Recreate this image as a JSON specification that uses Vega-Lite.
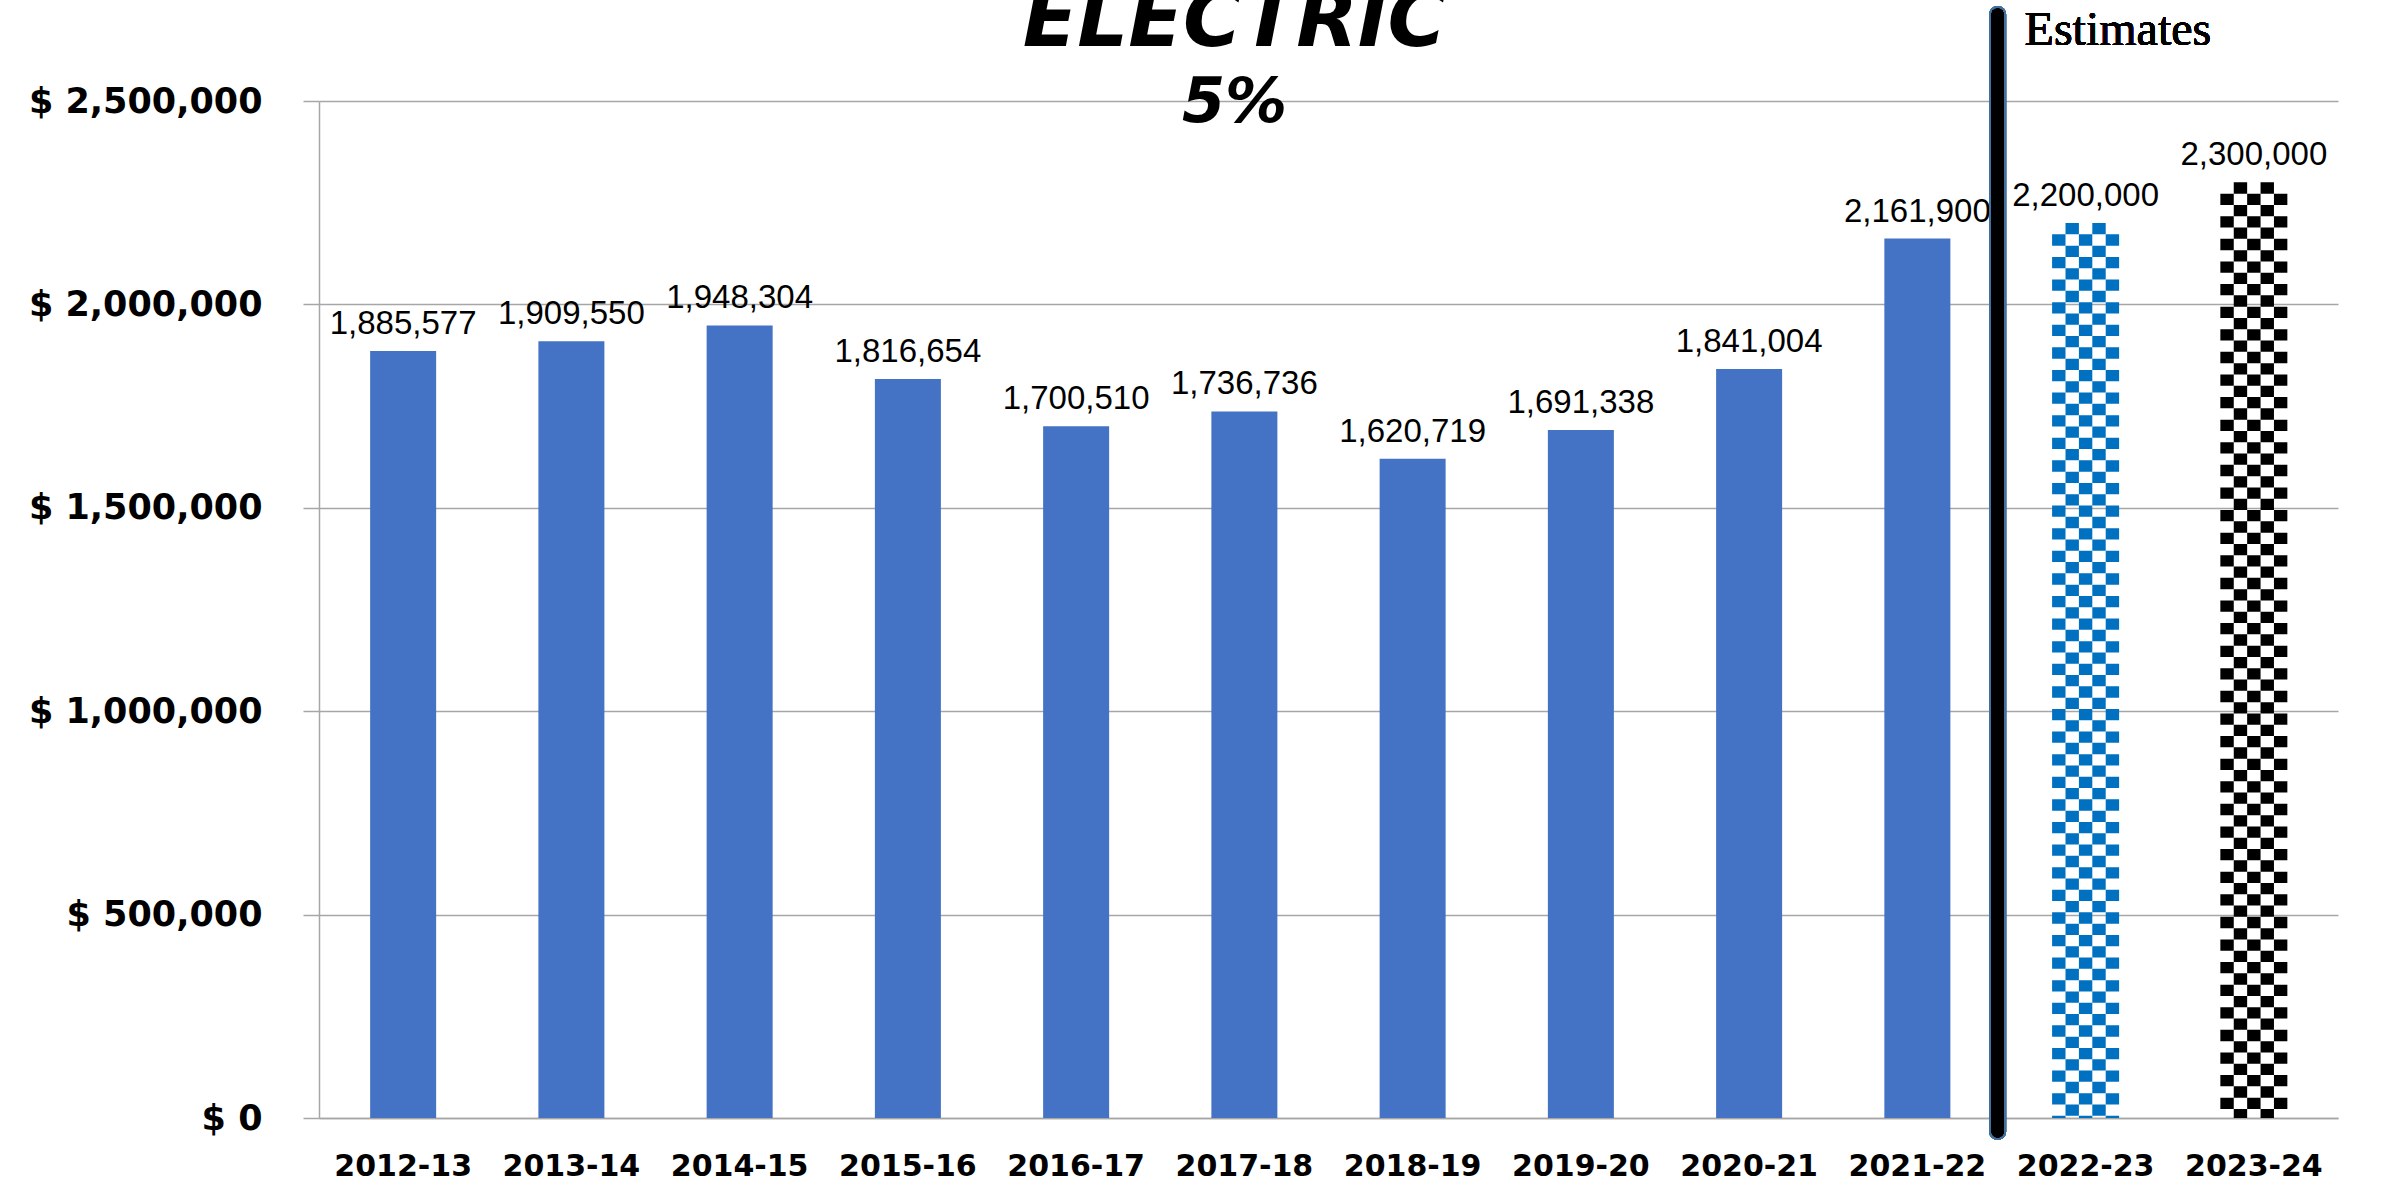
{
  "$schema": "https://vega.github.io/schema/vega-lite/v6.json",
  "width": 2019,
  "height": 1017,
  "autosize": {"type": "none"},
  "padding": {"left": 319, "top": 101, "right": 44, "bottom": 78},
  "background": "white",
  "title": {
    "text": "ELECTRIC",
    "subtitle": "5%",
    "anchor": "middle",
    "frame": "group",
    "dx": -94,
    "dy": 129,
    "offset": 0,
    "font": "DejaVu Sans",
    "fontSize": 80,
    "fontStyle": "italic",
    "fontWeight": "bold",
    "color": "black",
    "subtitleFont": "DejaVu Sans",
    "subtitleFontSize": 62,
    "subtitleFontStyle": "italic",
    "subtitleFontWeight": "bold",
    "subtitleColor": "black",
    "subtitlePadding": 10
  },
  "config": {
    "view": {"stroke": null},
    "axis": {"gridColor": "#a6a6a6", "gridWidth": 1.5, "domainColor": "#a6a6a6", "domainWidth": 1.5, "tickColor": "#a6a6a6", "tickWidth": 1.5}
  },
  "data": {
    "values": [
      {"year": "2012-13", "value": 1885577, "kind": "actual"},
      {"year": "2013-14", "value": 1909550, "kind": "actual"},
      {"year": "2014-15", "value": 1948304, "kind": "actual"},
      {"year": "2015-16", "value": 1816654, "kind": "actual"},
      {"year": "2016-17", "value": 1700510, "kind": "actual"},
      {"year": "2017-18", "value": 1736736, "kind": "actual"},
      {"year": "2018-19", "value": 1620719, "kind": "actual"},
      {"year": "2019-20", "value": 1691338, "kind": "actual"},
      {"year": "2020-21", "value": 1841004, "kind": "actual"},
      {"year": "2021-22", "value": 2161900, "kind": "actual"},
      {"year": "2022-23", "value": 2200000, "kind": "estimate"},
      {"year": "2023-24", "value": 2300000, "kind": "estimate"}
    ]
  },
  "encoding": {
    "x": {
      "field": "year",
      "type": "nominal",
      "sort": null,
      "scale": {"paddingInner": 0.6077, "paddingOuter": 0.304},
      "axis": {"title": null, "labelAngle": 0, "labelFont": "DejaVu Sans", "labelFontWeight": "bold", "labelFontSize": 30, "labelColor": "black", "ticks": false, "labelPadding": 33}
    },
    "y": {
      "field": "value",
      "type": "quantitative",
      "scale": {"domain": [0, 2500000], "nice": false},
      "axis": {"title": null, "values": [0, 500000, 1000000, 1500000, 2000000, 2500000], "labelExpr": "'$ ' + format(datum.value, ',')", "labelFont": "DejaVu Sans", "labelFontWeight": "bold", "labelFontSize": 35, "labelColor": "black", "labelLimit": 0, "tickSize": 16, "labelPadding": 41}
    }
  },
  "layer": [
    {
      "transform": [{"filter": "datum.kind == 'actual'"}],
      "mark": {"type": "bar", "color": "#4472c4"}
    },
    {
      "transform": [{"filter": "datum.kind == 'estimate'"}],
      "encoding": {
        "y2": {"datum": 0},
        "color": {"field": "year", "type": "nominal", "scale": {"domain": ["2022-23", "2023-24"], "range": ["#0070c0", "#000000"]}, "legend": null}
      },
      "layer": [
        {"mark": {"type": "rule", "strokeWidth": 13.4, "xOffset": -26.8, "strokeDash": [11.3, 11.3], "strokeDashOffset": 11.3}},
        {"mark": {"type": "rule", "strokeWidth": 13.4, "xOffset": -13.4, "strokeDash": [11.3, 11.3], "strokeDashOffset": 0}},
        {"mark": {"type": "rule", "strokeWidth": 13.4, "xOffset": 0, "strokeDash": [11.3, 11.3], "strokeDashOffset": 11.3}},
        {"mark": {"type": "rule", "strokeWidth": 13.4, "xOffset": 13.4, "strokeDash": [11.3, 11.3], "strokeDashOffset": 0}},
        {"mark": {"type": "rule", "strokeWidth": 13.4, "xOffset": 26.8, "strokeDash": [11.3, 11.3], "strokeDashOffset": 11.3}}
      ]
    },
    {
      "mark": {"type": "text", "font": "Liberation Sans", "fontSize": 33, "baseline": "alphabetic", "dy": -17, "color": "black"},
      "encoding": {"text": {"field": "value", "type": "quantitative", "format": ","}}
    },
    {
      "mark": {"type": "rule", "strokeWidth": 17, "color": "#41719c", "strokeCap": "round", "xOffset": -55},
      "encoding": {
        "x": {"datum": "2022-23", "type": "nominal", "bandPosition": 0},
        "y": {"datum": 2712600, "type": "quantitative"},
        "y2": {"datum": -33200}
      }
    },
    {
      "mark": {"type": "rule", "strokeWidth": 12, "color": "#000000", "strokeCap": "round", "xOffset": -55},
      "encoding": {
        "x": {"datum": "2022-23", "type": "nominal", "bandPosition": 0},
        "y": {"datum": 2712600, "type": "quantitative"},
        "y2": {"datum": -33200}
      }
    },
    {
      "mark": {"type": "text", "text": "Estimates", "font": "Liberation Serif", "fontSize": 48, "align": "left", "baseline": "alphabetic", "dx": -61, "color": "black"},
      "encoding": {
        "x": {"datum": "2022-23", "type": "nominal"},
        "y": {"datum": 2637600, "type": "quantitative"}
      }
    }
  ]
}
